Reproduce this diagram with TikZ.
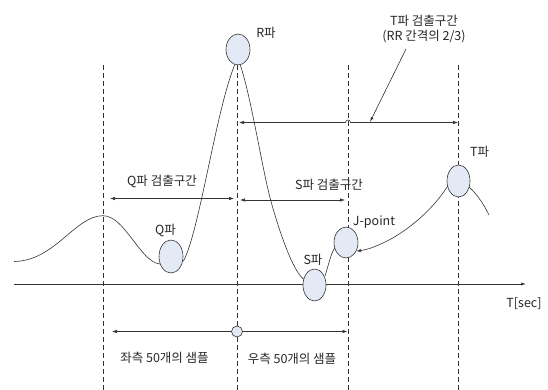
\documentclass[tikz,border=0pt]{standalone}
\usepackage{fontspec}
\setmainfont{Noto Sans CJK KR}
\usetikzlibrary{arrows.meta,shapes.geometric}
\definecolor{efill}{HTML}{E3EAF5}
\definecolor{lineg}{HTML}{333333}
\tikzset{
  peak/.style={ellipse,draw=lineg,fill=efill,line width=0.6pt,inner sep=0pt},
  guide/.style={draw=lineg,line width=0.6pt,dash pattern=on 5pt off 3pt},
  wave/.style={draw=lineg,line width=0.6pt},
  span/.style={draw=lineg,line width=0.6pt,{Latex[length=5pt,width=3.5pt]}-{Latex[length=5pt,width=3.5pt]}},
  lbl/.style={font=\fontsize{12.5}{14}\selectfont,text=black!85,inner sep=0pt}
}
\begin{document}
\begin{tikzpicture}[x=1pt,y=-1pt]
\useasboundingbox (0,0) rectangle (548,390);
% guide lines
\foreach \xx/\nm in {103/g1,237/g2,348/g3,458/g4}{
  \coordinate (\nm t) at (\xx,65);
  \coordinate (\nm b) at (\xx,390);
  \draw[guide] (\nm t) -- (\nm b);
}
% axis
\coordinate (ax0) at (14,284);
\coordinate (ax1) at (526,284);
\draw[draw=lineg,line width=0.6pt,-{Latex[length=5pt,width=3pt]}] (ax0) -- (ax1);
\node[lbl] (tsec) at (524,304) {T[sec]};
% waveform
\draw[wave] (14,261.5) .. controls (55,261) and (75,215.7) .. (103,215.7)
  .. controls (125,215.7) and (140,262) .. (160,264)
  .. controls (168,268) and (178,266) .. (184,260)
  .. controls (200,228) and (216,110) .. (235,64);
\draw[wave] (240,64) .. controls (252,100) and (262,170) .. (272,205)
  .. controls (282,240) and (295,275) .. (305,280);
\draw[wave] (325,276) .. controls (330,260) and (332,248) .. (338,245);
\draw[wave,-{Stealth[length=4.5pt,width=3.5pt]}] (449,184) .. controls (430,215) and (400,235) .. (385,242)
  .. controls (375,247) and (366,250) .. (357,251);
\draw[wave] (468,186) .. controls (478,195) and (484,205) .. (489,215);
% peaks
\node[peak,minimum width=24pt,minimum height=31pt] (R) at (238,49.5) {};
\node[peak,minimum width=23pt,minimum height=32pt] (T) at (458.5,181) {};
\node[peak,minimum width=24pt,minimum height=33pt] (Q) at (171,256.5) {};
\node[peak,minimum width=23pt,minimum height=32pt] (S) at (314.5,285) {};
\node[peak,minimum width=24pt,minimum height=31pt] (J) at (346,242.5) {};
% peak labels
\node[lbl] (Rl) at (266,32.5) {R파};
\node[lbl] (Tl) at (479.5,152) {T파};
\node[lbl] (Ql) at (165.5,230.5) {Q파};
\node[lbl] (Sl) at (313,260) {S파};
\node[lbl] (Jl) at (374,222) {J-point};
% Q / S intervals
\coordinate (qa) at (110,198.5); \coordinate (qb) at (234,198.5);
\draw[span] (qa) -- (qb);
\node[lbl] (qt) at (162,181) {Q파 검출구간};
\coordinate (sa) at (240,200); \coordinate (sb) at (345,200);
\draw[span] (sa) -- (sb);
\node[lbl] (st) at (329,184.5) {S파 검출구간};
% T interval
\coordinate (ta) at (239,122.5); \coordinate (tb) at (458,122.5);
\coordinate (tj1) at (345.5,122.5); \coordinate (tj2) at (350.5,122.5);
\draw[span] (ta) -- (tj1) arc[start angle=180,end angle=0,radius=2.5pt] -- (tb);
\node[lbl] (tt1) at (424,21) {T파 검출구간};
\node[lbl] (tt2) at (424,37) {(RR 간격의 2/3)};
\coordinate (lead0) at (406,49); \coordinate (lead1) at (370,122);
\draw[draw=lineg,line width=0.6pt,-{Latex[length=5pt,width=3pt]}] (lead0) -- (lead1);
% bottom samples
\coordinate (ba) at (112,331.5); \coordinate (bb) at (347.5,331.5);
\draw[span] (ba) -- (bb);
\node[circle,draw=lineg,fill=efill,line width=0.6pt,minimum size=11pt,inner sep=0pt] (mid) at (237,331.5) {};
\node[lbl] (bl) at (164.5,357.5) {좌측 50개의 샘플};
\node[lbl] (br) at (292,358.5) {우측 50개의 샘플};
\end{tikzpicture}
\end{document}
